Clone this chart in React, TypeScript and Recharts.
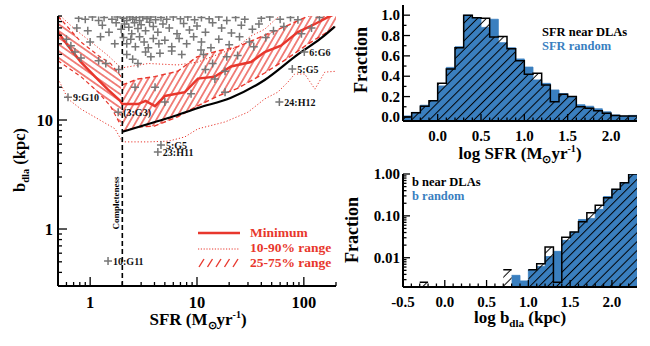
import React from "react";
import {
  Area,
  ComposedChart,
  Line,
  ReferenceLine,
  Scatter,
  XAxis,
  YAxis,
} from "recharts";

const RED = "#e8372d";
const BLUE = "#3a7fbf";
const GRAY = "#777777";
const SERIF = "'Liberation Serif', 'Times New Roman', serif";

// ---------- left panel: b_dla vs SFR ----------
// 25-75% range below the completeness limit
const bandLeftSfr = [0.5, 0.82, 1.19, 1.55, 1.95];
const bandLeftLo = [35, 25, 18, 13.4, 8.8];
const bandLeftHi = [90, 52, 39, 33, 25];
// 25-75% range above the completeness limit
const bandRightSfr = [2, 2.8, 4, 6.6, 10, 15.7, 24, 43, 71, 110, 157, 200];
const bandRightLo = [7.9, 8.6, 8.8, 10.7, 13.4, 16.6, 19.5, 27, 37, 50, 62, 72];
const bandRightHi = [21, 23.8, 25, 28, 38, 43, 47, 60, 74, 90, 100, 100];
// minimum
const minSfr = [0.5, 0.62, 0.82, 1.11, 1.47, 1.91, 2.0, 2.8, 3.3, 4.05, 5.0, 7.7, 10.2, 14.7, 20.8, 32, 43, 61, 88, 127, 168, 200];
const minB = [64, 48, 34, 25, 19, 15, 14, 14, 15, 13.4, 16.6, 18, 24, 25, 31, 34, 42, 48, 64, 76, 88, 95];
// 10% and 90% envelopes
const p90Sfr = [0.5, 0.54, 0.72, 1.02, 1.47, 1.95, 3.5, 6.6, 10.2, 15.7, 24, 32, 43, 55, 70];
const p90B = [95, 88, 68, 52, 39, 30, 33, 32, 34, 40, 47, 59, 68, 85, 100];
const p10Sfr = [0.5, 0.62, 0.82, 1.19, 1.71, 2.0, 3.5, 5.4, 7.7, 10.2, 18.3, 30, 43, 57, 71, 82, 102, 127, 157, 200];
const p10B = [24, 15.6, 12.6, 10.2, 8.3, 6.3, 6.3, 6.4, 7, 8.3, 9.6, 11.8, 15.6, 18, 22.3, 26.4, 26.4, 19.2, 27.5, 28];
// black limit curve
const limitSfr = [2, 3.5, 5.7, 10.2, 20.8, 43, 88, 144, 195];
const limitB = [7.8, 9.2, 10.6, 12.9, 16, 23.3, 40, 56, 72];

// galaxies (grey crosses)
const galSfr = [
  0.78, 0.9, 1.05, 1.2, 1.35, 1.6, 1.8, 2.05, 2.2, 2.35, 2.5, 2.7, 2.9, 3.1, 3.4, 3.7, 4.1, 4.6, 5.2, 6, 7, 8.2, 9.5, 11, 13, 16, 19, 23, 28, 40, 48, 60, 75, 88, 140,
  0.75, 0.95, 1.3, 1.5, 1.75, 1.95, 2.1, 2.3, 2.45, 2.6, 2.8, 3.0, 3.3, 3.6, 3.9, 4.3, 4.8, 5.5, 6.5, 7.5, 8.5, 10, 12, 14, 17, 21, 26, 33, 38, 52, 65, 95, 118,
  0.6, 0.66, 1.0, 1.25, 1.7, 2.05, 2.2, 2.4, 2.65, 2.9, 3.2, 3.5, 3.9, 4.4, 5, 5.8, 6.8, 8, 9.3, 11, 13.5, 16, 20, 25, 31, 44, 34,
  0.72, 0.82, 1.2, 1.4, 1.85, 2.2, 2.5, 2.8, 3.3, 3.7, 4.5, 5.8, 7.2, 10.9, 11.5, 19, 24, 14,
  2.63, 4.05, 8.8, 14.7, 18.3, 5, 12, 18.3,
];
const galB = [
  86, 84, 88, 82, 87, 84, 88, 86, 82, 88, 84, 87, 82, 88, 85, 88, 83, 87, 84, 88, 85, 88, 83, 87, 85, 88, 82, 87, 84, 86, 88, 84, 87, 83, 87,
  70, 66, 74, 64, 78, 68, 76, 71, 62, 78, 69, 75, 66, 79, 72, 64, 76, 70, 62, 77, 67, 73, 64, 78, 70, 63, 74, 68, 76, 66, 72, 62, 70,
  55, 48, 52, 58, 50, 57, 50, 55, 47, 58, 52, 46, 56, 50, 54, 47, 56, 50, 58, 52, 46, 55, 49, 58, 52, 57, 47,
  42, 37, 35, 33, 29, 40, 36, 33, 42, 38, 41, 43, 40, 44, 40, 38, 39, 33,
  20, 20, 17.4, 23.8, 18, 14.6, 29, 28,
];
// labelled DLA galaxies
const labSfr = [0.62, 1.83, 4.6, 4.3, 59, 101, 78, 1.47];
const labB = [16.2, 11.8, 5.9, 5.1, 14.6, 42, 29.4, 0.51];
const labName = ["9:G10", "(3:G3)", "5:G5", "23:H11", "24:H12", "6:G6", "5:G5", "10:G11"];

const leftXMajor = [1, 10, 100];
const leftXLabels = ["1", "10", "100"];
const leftXMinor = [0.5, 0.6, 0.7, 0.8, 0.9, 2, 3, 4, 5, 6, 7, 8, 9, 20, 30, 40, 50, 60, 70, 80, 90, 200];
const leftYMajor = [1, 10];
const leftYLabels = ["1", "10"];
const leftYMinor = [0.3, 0.4, 0.5, 0.6, 0.7, 0.8, 0.9, 2, 3, 4, 5, 6, 7, 8, 9, 20, 30, 40, 50, 60, 70, 80, 90];

// ---------- top right: log SFR histogram ----------
const BIN = 0.1;
const sfrBinLo = [-0.4, -0.3, -0.2, -0.1, 0, 0.1, 0.2, 0.3, 0.4, 0.5, 0.6, 0.7, 0.8, 0.9, 1.0, 1.1, 1.2, 1.3, 1.4, 1.5, 1.6, 1.7, 1.8, 1.9, 2.0, 2.1, 2.2];
const sfrNear = [0, 0.04, 0.106, 0.16, 0.33, 0.47, 0.68, 1.0, 0.975, 0.97, 0.785, 0.79, 0.67, 0.553, 0.42, 0.43, 0.315, 0.15, 0.222, 0.2, 0.1, 0.085, 0.06, 0.035, 0.015, 0.01, 0.01];
const sfrRandom = [0.01, 0.045, 0.115, 0.16, 0.305, 0.487, 0.69, 1.0, 0.977, 0.88, 0.96, 0.73, 0.68, 0.57, 0.49, 0.364, 0.33, 0.265, 0.23, 0.2, 0.12, 0.105, 0.08, 0.05, 0.02, 0.008, 0.015];
const sfrXMajor = [0, 0.5, 1, 1.5, 2];
const sfrXLabels = ["0.0", "0.5", "1.0", "1.5", "2.0"];
const sfrXMinor = [-0.3, -0.2, -0.1, 0.1, 0.2, 0.3, 0.4, 0.6, 0.7, 0.8, 0.9, 1.1, 1.2, 1.3, 1.4, 1.6, 1.7, 1.8, 1.9, 2.1, 2.2];
const fracMajor = [0, 0.2, 0.4, 0.6, 0.8, 1.0];
const fracLabels = ["0.0", "0.2", "0.4", "0.6", "0.8", "1.0"];
const fracMinor = [0.1, 0.3, 0.5, 0.7, 0.9];

// ---------- bottom right: log b histogram ----------
const bBinLo = [-0.5, -0.4, -0.3, -0.2, -0.1, 0, 0.1, 0.2, 0.3, 0.4, 0.5, 0.6, 0.7, 0.8, 0.9, 1.0, 1.1, 1.2, 1.3, 1.4, 1.5, 1.6, 1.7, 1.8, 1.9, 2.0, 2.1, 2.2];
const bNear = [null, null, 0.0026, null, null, null, null, null, null, null, null, null, 0.0052, null, null, 0.0052, 0.0072, 0.018, 0.0026, 0.031, 0.041, 0.072, 0.118, 0.18, 0.27, 0.43, 0.62, 1.0];
const bRandom = [null, null, null, null, null, null, null, null, null, null, null, null, null, 0.0038, 0.0028, 0.0052, 0.0062, 0.0107, 0.0142, 0.026, 0.041, 0.082, 0.087, 0.143, 0.29, 0.43, 0.62, 1.0];
const bXMajor = [-0.5, 0, 0.5, 1, 1.5, 2];
const bXLabels = ["-0.5", "0.0", "0.5", "1.0", "1.5", "2.0"];
const bXMinor = [-0.4, -0.3, -0.2, -0.1, 0.1, 0.2, 0.3, 0.4, 0.6, 0.7, 0.8, 0.9, 1.1, 1.2, 1.3, 1.4, 1.6, 1.7, 1.8, 1.9, 2.1, 2.2];
const logFracMajor = [0.01, 0.1, 1];
const logFracLabels = ["0.01", "0.10", "1.00"];
const logFracMinor = [0.002, 0.003, 0.004, 0.005, 0.006, 0.007, 0.008, 0.009, 0.02, 0.03, 0.04, 0.05, 0.06, 0.07, 0.08, 0.09, 0.2, 0.3, 0.4, 0.5, 0.6, 0.7, 0.8, 0.9];

type Side = "bottom" | "top" | "left" | "right";

// inward IDL-style ticks, labels only on majors
function makeTick(side: Side, majors: number[], labels: string[] | null, font: number, off: number, major = 8, minor = 4) {
  return (p: any) => {
    const v = Number(p.payload.value);
    const k = majors.findIndex((m) => Math.abs(m - v) < 1e-9 + Math.abs(m) * 1e-6);
    const len = k >= 0 ? major : minor;
    const d = side === "bottom" ? [0, -1] : side === "top" ? [0, 1] : side === "left" ? [1, 0] : [-1, 0];
    let label = null;
    if (labels && k >= 0) {
      label =
        side === "bottom" ? (
          <text x={p.x} y={p.y + off} textAnchor="middle" fontFamily={SERIF} fontWeight="bold" fontSize={font} fill="#000">
            {labels[k]}
          </text>
        ) : (
          <text x={p.x - off} y={p.y + font * 0.34} textAnchor="end" fontFamily={SERIF} fontWeight="bold" fontSize={font} fill="#000">
            {labels[k]}
          </text>
        );
    }
    return (
      <g>
        <line x1={p.x} y1={p.y} x2={p.x + d[0] * len} y2={p.y + d[1] * len} stroke="#000" strokeWidth={1.3} />
        {label}
      </g>
    );
  };
}

const frame = { stroke: "#000", strokeWidth: 2 };

const plusPath = (cx: number, cy: number) => `M${cx - 4},${cy}h8M${cx},${cy - 4}v8`;

const PlusShape = (p: any) => <path d={plusPath(p.cx, p.cy)} stroke={GRAY} strokeWidth={1.5} fill="none" />;

const LabelledShape = (p: any) => (
  <g>
    <path d={plusPath(p.cx, p.cy)} stroke={GRAY} strokeWidth={1.5} fill="none" />
    <text x={p.cx + 5} y={p.cy + 4} fontFamily={SERIF} fontWeight="bold" fontSize={10} fill="#111">
      {p.payload.name}
    </text>
  </g>
);

function ImpactPanel() {
  const bandLeft = bandLeftSfr.map((x, i) => ({ x, lo: bandLeftLo[i], hi: bandLeftHi[i] }));
  const bandRight = bandRightSfr.map((x, i) => ({ x, lo: bandRightLo[i], hi: bandRightHi[i] }));
  const minimum = minSfr.map((x, i) => ({ x, y: minB[i] }));
  const p90 = p90Sfr.map((x, i) => ({ x, y: p90B[i] }));
  const p10 = p10Sfr.map((x, i) => ({ x, y: p10B[i] }));
  const limit = limitSfr.map((x, i) => ({ x, y: limitB[i] }));
  const gals = galSfr.map((x, i) => ({ x, y: galB[i] }));
  const labelled = labSfr.map((x, i) => ({ x, y: labB[i], name: labName[i] }));
  const xTicks = [...leftXMinor, ...leftXMajor].sort((a, b) => a - b);
  const yTicks = [...leftYMinor, ...leftYMajor].sort((a, b) => a - b);
  return (
    <ComposedChart width={345} height={346} margin={{ top: 16, right: 9, bottom: 0, left: 0 }}>
      <defs>
        <pattern id="hatchSteep" patternUnits="userSpaceOnUse" width={5.5} height={10} patternTransform="rotate(30)">
          <line x1={2.75} y1={0} x2={2.75} y2={10} stroke={RED} strokeWidth={1.2} />
        </pattern>
        <pattern id="hatchFlat" patternUnits="userSpaceOnUse" width={10} height={5.5} patternTransform="rotate(35)">
          <line x1={0} y1={2.75} x2={10} y2={2.75} stroke={RED} strokeWidth={1.2} />
        </pattern>
      </defs>
      <XAxis dataKey="x" type="number" scale="log" domain={[0.5, 200]} allowDataOverflow ticks={xTicks} interval={0}
        tickSize={0} tickMargin={0} tickLine={false} axisLine={frame} height={60}
        tick={makeTick("bottom", leftXMajor, leftXLabels, 16.5, 22, 9, 4)} />
      <XAxis xAxisId="top" dataKey="x" orientation="top" type="number" scale="log" domain={[0.5, 200]} allowDataOverflow ticks={xTicks} interval={0}
        tickSize={0} tickMargin={0} tickLine={false} axisLine={frame} height={0}
        tick={makeTick("top", leftXMajor, null, 16, 0, 9, 4)} />
      <YAxis dataKey="y" type="number" scale="log" domain={[0.3, 90]} allowDataOverflow ticks={yTicks} interval={0}
        tickSize={0} tickMargin={0} tickLine={false} axisLine={frame} width={58}
        tick={makeTick("left", leftYMajor, leftYLabels, 16.5, 5, 9, 4)} />
      <YAxis yAxisId="right" dataKey="y" orientation="right" type="number" scale="log" domain={[0.3, 90]} allowDataOverflow ticks={yTicks} interval={0}
        tickSize={0} tickMargin={0} tickLine={false} axisLine={frame} width={0}
        tick={makeTick("right", leftYMajor, null, 16, 0, 9, 4)} />

      <Area data={bandLeft} dataKey={(d: any) => [d.lo, d.hi]} type="linear" fill="url(#hatchFlat)" fillOpacity={1}
        stroke={RED} strokeWidth={1.2} strokeDasharray="4 3" isAnimationActive={false} />
      <Area data={bandRight} dataKey={(d: any) => [d.lo, d.hi]} type="linear" fill="url(#hatchSteep)" fillOpacity={1}
        stroke={RED} strokeWidth={1.4} strokeDasharray="5 3" isAnimationActive={false} />
      <Scatter data={gals} dataKey="y" shape={PlusShape} isAnimationActive={false} />
      <Scatter data={labelled} dataKey="y" shape={LabelledShape} isAnimationActive={false} />
      <Line data={p90} dataKey="y" type="linear" stroke={RED} strokeWidth={1} strokeDasharray="1.2 2" dot={false} isAnimationActive={false} />
      <Line data={p10} dataKey="y" type="linear" stroke={RED} strokeWidth={1} strokeDasharray="1.2 2" dot={false} isAnimationActive={false} />
      <Line data={minimum} dataKey="y" type="linear" stroke={RED} strokeWidth={2.5} dot={false} isAnimationActive={false} />
      <Line data={limit} dataKey="y" type="monotone" stroke="#000" strokeWidth={2.2} dot={false} isAnimationActive={false} />
      <ReferenceLine x={2} stroke="#000" strokeWidth={1.6} strokeDasharray="5 3" />
    </ComposedChart>
  );
}

function histRows(lo: number[], near: (number | null)[], rand: (number | null)[]) {
  return lo.flatMap((x0, i) => {
    const x1 = Math.round((x0 + BIN) * 100) / 100;
    return [
      { x: x0, near: near[i], rand: rand[i] },
      { x: x1, near: near[i], rand: rand[i] },
    ];
  });
}

function HistPanel(props: {
  id: string;
  rows: any[];
  xDomain: [number, number];
  xMajor: number[];
  xLabels: string[];
  xMinor: number[];
  yDomain: [number, number];
  yLog: boolean;
  yMajor: number[];
  yLabels: string[];
  yMinor: number[];
  top: number;
  height: number;
  xAxisH: number;
}) {
  const xTicks = [...props.xMinor, ...props.xMajor].sort((a, b) => a - b);
  const yTicks = [...props.yMinor, ...props.yMajor].sort((a, b) => a - b);
  const scale = props.yLog ? "log" : "linear";
  return (
    <ComposedChart width={310} height={props.height} data={props.rows} margin={{ top: props.top, right: 13, bottom: 0, left: 0 }}>
      <defs>
        <pattern id={props.id} patternUnits="userSpaceOnUse" width={6.3} height={10} patternTransform="rotate(45)">
          <line x1={3.15} y1={0} x2={3.15} y2={10} stroke="#000" strokeWidth={1} />
        </pattern>
      </defs>
      <XAxis dataKey="x" type="number" domain={props.xDomain} allowDataOverflow ticks={xTicks} interval={0}
        tickSize={0} tickMargin={0} tickLine={false} axisLine={frame} height={props.xAxisH}
        tick={makeTick("bottom", props.xMajor, props.xLabels, 15, 20, 7, 3.5)} />
      <XAxis xAxisId="top" dataKey="x" orientation="top" type="number" domain={props.xDomain} allowDataOverflow ticks={xTicks} interval={0}
        tickSize={0} tickMargin={0} tickLine={false} axisLine={frame} height={0}
        tick={makeTick("top", props.xMajor, null, 15, 0, 7, 3.5)} />
      <YAxis type="number" scale={scale} domain={props.yDomain} allowDataOverflow ticks={yTicks} interval={0}
        tickSize={0} tickMargin={0} tickLine={false} axisLine={frame} width={63}
        tick={makeTick("left", props.yMajor, props.yLabels, 15, 3, 7, 3.5)} />
      <YAxis yAxisId="right" orientation="right" type="number" scale={scale} domain={props.yDomain} allowDataOverflow ticks={yTicks} interval={0}
        tickSize={0} tickMargin={0} tickLine={false} axisLine={frame} width={0}
        tick={makeTick("right", props.yMajor, null, 15, 0, 7, 3.5)} />
      <Area dataKey="rand" type="linear" baseValue="dataMin" fill={BLUE} fillOpacity={1} stroke={BLUE} strokeWidth={0.8}
        isAnimationActive={false} />
      <Area dataKey="near" type="linear" baseValue="dataMin" fill={`url(#${props.id})`} fillOpacity={1} stroke="#000" strokeWidth={1.5}
        isAnimationActive={false} />
    </ComposedChart>
  );
}

function Overlay() {
  const t = { fontFamily: SERIF, fontWeight: "bold" as const };
  return (
    <svg width={650} height={346} style={{ position: "absolute", left: 0, top: 0, pointerEvents: "none" }}>
      {/* left panel titles */}
      <text {...t} fontSize={16.5} x={25} y={160} textAnchor="middle" transform="rotate(-90 25 160)">
        b<tspan fontSize={10.5} dy={4}>dla</tspan>
        <tspan dy={-4}> (kpc)</tspan>
      </text>
      <text {...t} fontSize={17} x={198} y={325} textAnchor="middle">
        SFR (M<tspan fontSize={11} dy={4}>⊙</tspan>
        <tspan dy={-4}>yr</tspan>
        <tspan fontSize={10} dy={-7}>-1</tspan>
        <tspan dy={7}>)</tspan>
      </text>
      <text {...t} fontSize={9} x={119} y={203} textAnchor="middle" transform="rotate(-90 119 203)">
        Completeness
      </text>
      {/* left legend */}
      <line x1={198} y1={233} x2={240} y2={233} stroke={RED} strokeWidth={2.5} />
      <line x1={198} y1={249} x2={240} y2={249} stroke={RED} strokeWidth={1} strokeDasharray="1.2 1.6" />
      {[0, 1, 2, 3, 4].map((k) => (
        <line key={k} x1={199 + 8.5 * k} y1={267} x2={204 + 8.5 * k} y2={259} stroke={RED} strokeWidth={1.4} />
      ))}
      <text {...t} fontSize={13.5} fill={RED} x={250} y={237}>Minimum</text>
      <text {...t} fontSize={13.5} fill={RED} x={250} y={252}>10-90% range</text>
      <text {...t} fontSize={13.5} fill={RED} x={250} y={267}>25-75% range</text>

      {/* top right */}
      <text {...t} fontSize={18} x={367} y={60} textAnchor="middle" transform="rotate(-90 367 60)">Fraction</text>
      <text {...t} fontSize={17} x={520} y={159} textAnchor="middle">
        log SFR (M<tspan fontSize={11} dy={4}>⊙</tspan>
        <tspan dy={-4}>yr</tspan>
        <tspan fontSize={10} dy={-7}>-1</tspan>
        <tspan dy={7}>)</tspan>
      </text>
      <text {...t} fontSize={12.5} x={542} y={36}>SFR near DLAs</text>
      <text {...t} fontSize={12.5} x={542} y={50} fill={BLUE}>SFR random</text>

      {/* bottom right */}
      <text {...t} fontSize={18} x={358} y={230} textAnchor="middle" transform="rotate(-90 358 230)">Fraction</text>
      <text {...t} fontSize={17} x={520} y={323} textAnchor="middle">
        log b<tspan fontSize={11} dy={4}>dla</tspan>
        <tspan dy={-4}> (kpc)</tspan>
      </text>
      <text {...t} fontSize={12.5} x={412} y={186}>b near DLAs</text>
      <text {...t} fontSize={12.5} x={412} y={200} fill={BLUE}>b random</text>
    </svg>
  );
}

export default function App() {
  const sfrRows = histRows(sfrBinLo, sfrNear, sfrRandom);
  const bRows = histRows(bBinLo, bNear, bRandom);
  return (
    <div style={{ position: "absolute", left: 0, top: 0, width: 650, height: 346, background: "#fff", overflow: "hidden" }}>
      <div style={{ position: "absolute", left: 0, top: 0 }}>
        <ImpactPanel />
      </div>
      <div style={{ position: "absolute", left: 340, top: 0 }}>
        <HistPanel id="hatchSfr" rows={sfrRows} xDomain={[-0.4, 2.3]} xMajor={sfrXMajor} xLabels={sfrXLabels} xMinor={sfrXMinor}
          yDomain={[-0.04, 1.1]} yLog={false} yMajor={fracMajor} yLabels={fracLabels} yMinor={fracMinor}
          top={5} height={160} xAxisH={39} />
      </div>
      <div style={{ position: "absolute", left: 340, top: 160 }}>
        <HistPanel id="hatchB" rows={bRows} xDomain={[-0.5, 2.3]} xMajor={bXMajor} xLabels={bXLabels} xMinor={bXMinor}
          yDomain={[0.002, 1]} yLog={true} yMajor={logFracMajor} yLabels={logFracLabels} yMinor={logFracMinor}
          top={14} height={186} xAxisH={59} />
      </div>
      <Overlay />
    </div>
  );
}
